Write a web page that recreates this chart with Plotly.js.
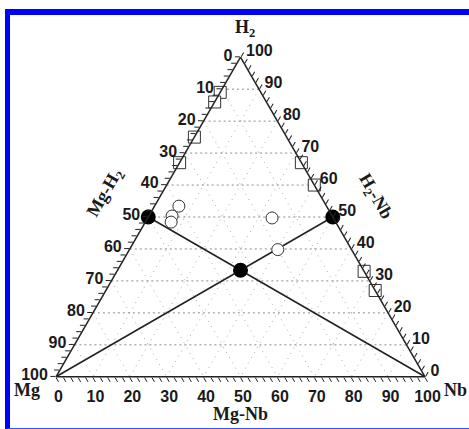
<!DOCTYPE html>
<html>
<head>
<meta charset="utf-8">
<script src="https://cdn.plot.ly/plotly-3.0.1.min.js"></script>
<style>
  html, body { margin: 0; padding: 0; background: #fff; }
  #wrap { position: relative; width: 469px; height: 429px; overflow: hidden; }
  #chart { position: absolute; left: 0; top: 0; width: 469px; height: 429px; }
  #frame { position: absolute; left: 5px; top: 9px; width: 464px; height: 420px;
           border-left: 5px solid #0000ff; border-top: 6px solid #0000ff;
           border-bottom: 1px solid #3050ff; box-sizing: border-box; pointer-events: none; }
</style>
</head>
<body>
<div id="wrap"><div id="chart"></div><div id="frame"></div></div>
<script>
// Components: a = H2 (top), b = Mg (bottom-left), c = Nb (bottom-right); sum = 100
// Open squares on Mg-H2 edge (Mg content, Nb = 0)
const sqLeftMg = [11, 14, 25, 33];
// Open squares on H2-Nb edge (H2 content, Mg = 0)
const sqRightH2 = [67, 60, 33, 27];
// Open circles inside
const ocH2 = [53.4, 50.3, 48.4, 49.7, 39.8];
const ocMg = [40.0, 43.4, 44.6, 16.6, 20.0];
const ocNb = [6.6, 6.3, 7.0, 33.7, 40.2];
// Filled circles
const fcH2 = [50, 50, 33.3];
const fcMg = [50, 0, 33.3];
const fcNb = [0, 50, 33.3];
// Tie lines: Mg -> H2-Nb(50/50), Nb -> Mg-H2(50/50)
const line1H2 = [0, 50], line1Mg = [100, 0], line1Nb = [0, 50];
const line2H2 = [0, 50], line2Mg = [0, 50], line2Nb = [100, 0];
// Ticks
const tickVals = [];
for (let v = 0; v <= 100; v += 2) tickVals.push(v);
const tickText = tickVals.map(v => (v % 10 === 0 ? String(100 - v) : ''));
const gridVals = [10, 20, 30, 40, 50, 60, 70, 80, 90];
// Labels
const vertexLabels = ['H<sub>2</sub>', 'Mg', 'Nb'];
const edgeLabels = ['Mg-Nb', 'Mg-H<sub>2</sub>', 'H<sub>2</sub>-Nb'];

const traces = [];
gridVals.forEach(v => {
  traces.push({type: 'scatterternary', mode: 'lines', hoverinfo: 'skip',
    a: [v, v], b: [100 - v, 0], c: [0, 100 - v],
    line: {color: '#8a8a8a', width: 1, dash: '2px,3px'}});
  traces.push({type: 'scatterternary', mode: 'lines', hoverinfo: 'skip',
    a: [100 - v, 0], b: [v, v], c: [0, 100 - v],
    line: {color: '#aaaaaa', width: 1, dash: '1px,5px'}});
  traces.push({type: 'scatterternary', mode: 'lines', hoverinfo: 'skip',
    a: [100 - v, 0], b: [0, 100 - v], c: [v, v],
    line: {color: '#aaaaaa', width: 1, dash: '1px,5px'}});
});
traces.push({type: 'scatterternary', mode: 'lines', a: line1H2, b: line1Mg, c: line1Nb,
  line: {color: '#222', width: 1.6}, cliponaxis: false});
traces.push({type: 'scatterternary', mode: 'lines', a: line2H2, b: line2Mg, c: line2Nb,
  line: {color: '#222', width: 1.6}, cliponaxis: false});
traces.push({type: 'scatterternary', mode: 'markers', cliponaxis: false,
  a: sqLeftMg.map(m => 100 - m), b: sqLeftMg, c: sqLeftMg.map(() => 0),
  marker: {symbol: 'square', size: 12, color: '#fff', line: {color: '#333', width: 1}}});
traces.push({type: 'scatterternary', mode: 'markers', cliponaxis: false,
  a: sqRightH2, b: sqRightH2.map(() => 0), c: sqRightH2.map(h => 100 - h),
  marker: {symbol: 'square', size: 12, color: '#fff', line: {color: '#333', width: 1}}});
traces.push({type: 'scatterternary', mode: 'markers', cliponaxis: false, a: ocH2, b: ocMg, c: ocNb,
  marker: {symbol: 'circle', size: 12, color: '#fff', line: {color: '#333', width: 1}}});
traces.push({type: 'scatterternary', mode: 'markers', cliponaxis: false, a: fcH2, b: fcMg, c: fcNb,
  marker: {symbol: 'circle', size: 15, color: '#000', line: {color: '#000', width: 0}}});

const tickFont = {family: 'Liberation Sans, Arial, sans-serif', size: 16, color: '#1a1a1a', weight: 'bold'};
const titleFont = {family: 'Liberation Serif, Times New Roman, serif', size: 18, color: '#1a1a1a', weight: 'bold'};
function axis() {
  return {
    title: {text: ''},
    tickmode: 'array', tickvals: tickVals, ticktext: tickText,
    ticks: 'outside', ticklen: 5, tickwidth: 1, tickcolor: '#222',
    tickfont: tickFont, showgrid: false,
    showline: true, linecolor: '#222', linewidth: 1.5, min: 0
  };
}
const L = 56, R = 44, T = 56, B = 51;
const W = 469 - L - R, H = 429 - T - B;
function px(x) { return (x - L) / W; }
function py(y) { return (429 - B - y) / H; }
function ann(text, x, y, angle) {
  return {xref: 'paper', yref: 'paper', x: px(x), y: py(y), xanchor: 'center', yanchor: 'middle',
    text: text, showarrow: false, font: titleFont, textangle: angle || 0};
}
const layout = {
  width: 469, height: 429,
  margin: {l: L, r: R, t: T, b: B, pad: 0},
  paper_bgcolor: 'rgba(0,0,0,0)', plot_bgcolor: '#fff',
  showlegend: false,
  ternary: {
    sum: 100, bgcolor: '#fff',
    aaxis: axis(), baxis: axis(), caxis: axis()
  },
  annotations: [
    ann(vertexLabels[0], 245, 28),
    ann(vertexLabels[1], 27, 390),
    ann(vertexLabels[2], 455, 390),
    ann(edgeLabels[0], 240, 414),
    ann(edgeLabels[1], 105, 193, -60),
    ann(edgeLabels[2], 375, 196, 60)
  ]
};
Plotly.newPlot('chart', traces, layout, {staticPlot: true, displayModeBar: false});
</script>
</body>
</html>
